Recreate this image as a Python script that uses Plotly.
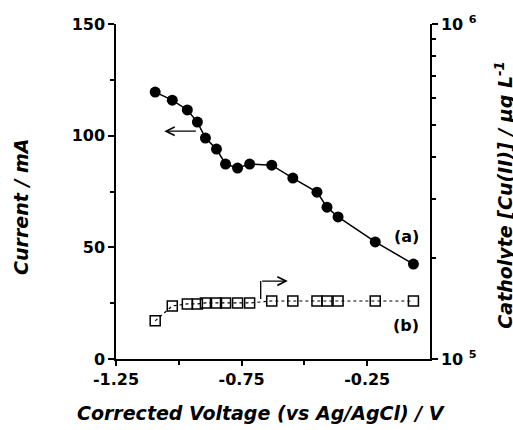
import plotly.graph_objects as go

voltage = [-1.094, -1.026, -0.966, -0.926, -0.894, -0.850, -0.814, -0.766, -0.718,
           -0.630, -0.546, -0.450, -0.410, -0.366, -0.218, -0.066]
current = [119.5, 115.9, 111.5, 106.1, 98.9, 94.0, 87.3, 85.5, 87.3,
           86.8, 81.0, 74.7, 68.0, 63.6, 52.4, 42.5]
copper = [1.30e5, 1.44e5, 1.46e5, 1.46e5, 1.47e5, 1.47e5, 1.47e5, 1.47e5, 1.47e5,
          1.49e5, 1.49e5, 1.49e5, 1.49e5, 1.49e5, 1.49e5, 1.49e5]

x_ticks = [-1.25, -0.75, -0.25]
x_labels = ["-1.25", "-0.75", "-0.25"]
y_ticks = [0, 50, 100, 150]
y2_ticks = [1e5, 1e6]
y2_labels = ["10 <sup>5</sup>", "10 <sup>6</sup>"]

FONT = "DejaVu Sans, Arial, sans-serif"
tickfont = dict(family=FONT, size=16, color="black", weight=700)
titlefont = dict(family=FONT, size=19, color="black", weight=700, style="italic")

fig = go.Figure()
fig.add_trace(go.Scatter(x=voltage, y=current, mode="lines+markers",
                         line=dict(color="black", width=1.5),
                         marker=dict(symbol="circle", size=11, color="black"),
                         yaxis="y", showlegend=False))
fig.add_trace(go.Scatter(x=voltage, y=copper, mode="lines+markers",
                         line=dict(color="black", width=1.2, dash="dot"),
                         marker=dict(symbol="square-open", size=10, color="black",
                                     line=dict(width=1.5)),
                         yaxis="y2", showlegend=False))

fig.update_layout(
    width=513, height=430,
    margin=dict(l=116, r=83, t=24, b=71),
    paper_bgcolor="white", plot_bgcolor="white",
    xaxis=dict(range=[-1.25, 0], tickvals=x_ticks, ticktext=x_labels,
               ticks="outside", ticklen=5, tickwidth=1.5, tickcolor="black",
               showline=True, linecolor="black", linewidth=1.5,
               showgrid=False, zeroline=False, tickfont=tickfont,
               minor=dict(tickmode="array", tickvals=[-1.0, -0.5], ticks="outside",
                          ticklen=4, tickcolor="black", tickwidth=1.5)),
    yaxis=dict(range=[0, 150], tickvals=y_ticks, ticks="outside", ticklen=6,
               tickwidth=1.5, tickcolor="black", showline=True, linecolor="black",
               linewidth=1.5, showgrid=False, zeroline=False, tickfont=tickfont,
               minor=dict(tickmode="array", tickvals=[25, 75, 125], ticks="outside",
                          ticklen=4, tickcolor="black", tickwidth=1.5)),
    yaxis2=dict(type="log", range=[5, 6], overlaying="y", side="right", anchor="x",
                tickvals=y2_ticks, ticktext=y2_labels, ticks="outside", ticklen=6,
                tickwidth=1.5, tickcolor="black", showline=True, linecolor="black",
                linewidth=1.5, showgrid=False, zeroline=False, tickfont=tickfont,
                minor=dict(tickmode="array",
                           tickvals=[2e5, 3e5, 4e5, 5e5, 6e5, 7e5, 8e5, 9e5],
                           ticks="outside", ticklen=4, tickcolor="black", tickwidth=1.5)),
)

# axis titles
fig.add_annotation(text="Corrected Voltage (vs Ag/AgCl) / V", xref="paper", yref="paper",
                   x=0.462, y=-0.161, xanchor="center", yanchor="middle",
                   showarrow=False, font=titlefont)
fig.add_annotation(text="Current / mA", xref="paper", yref="paper",
                   x=-0.3025, y=0.454, xanchor="center", yanchor="middle", textangle=-90,
                   showarrow=False, font=titlefont)
fig.add_annotation(text="Catholyte [Cu(II)] / μg L<sup>-1</sup>", xref="paper", yref="paper",
                   x=1.235, y=0.49, xanchor="center", yanchor="middle", textangle=-90,
                   showarrow=False, font=titlefont)

# series labels
labfont = dict(family=FONT, size=16, color="black", weight=700)
fig.add_annotation(text="(a)", x=-0.094, y=55, xref="x", yref="y", showarrow=False, font=labfont)
fig.add_annotation(text="(b)", x=-0.094, y=15.2, xref="x", yref="y", showarrow=False, font=labfont)

# arrows
fig.add_annotation(x=-1.058, y=102, ax=-0.926, ay=102, xref="x", yref="y",
                   axref="x", ayref="y", text="", showarrow=True,
                   arrowhead=5, arrowsize=1.3, arrowwidth=1.3, arrowcolor="black")
fig.add_shape(type="line", x0=-0.674, x1=-0.674, y0=26.9, y1=34.9, xref="x", yref="y",
              line=dict(color="black", width=1.3))
fig.add_annotation(x=-0.566, y=34.9, ax=-0.674, ay=34.9, xref="x", yref="y",
                   axref="x", ayref="y", text="", showarrow=True,
                   arrowhead=5, arrowsize=1.3, arrowwidth=1.3, arrowcolor="black")

fig.write_html("out.html")
